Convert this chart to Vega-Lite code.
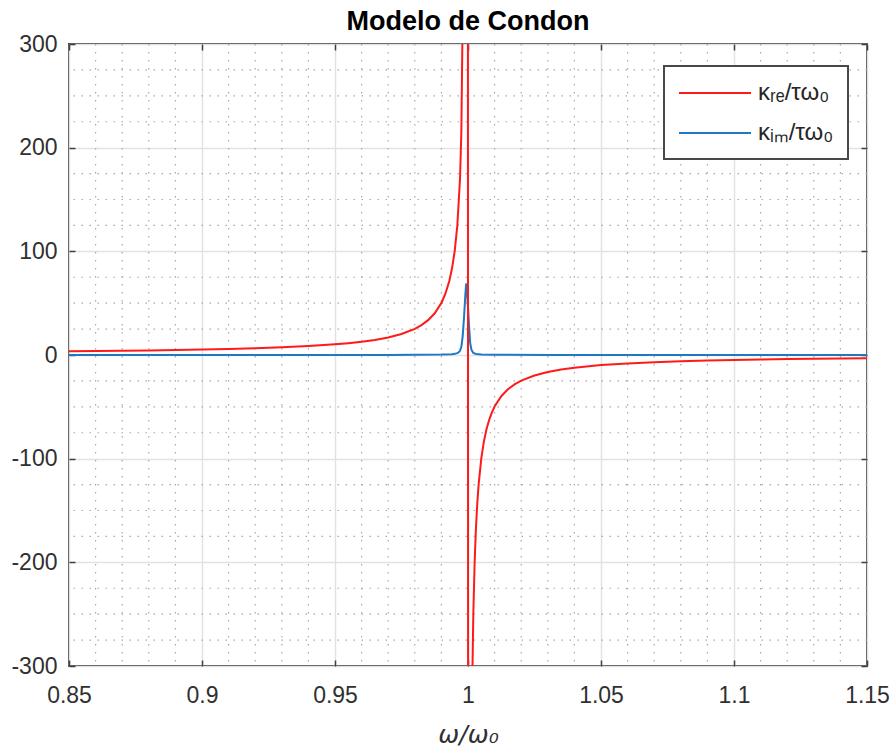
{
  "$schema": "https://vega.github.io/schema/vega-lite/v6.json",
  "width": 798,
  "height": 622,
  "autosize": {"type": "none"},
  "padding": {"left": 69, "top": 44, "right": 26, "bottom": 89},
  "background": "white",
  "title": {
    "text": "Modelo de Condon",
    "font": "Liberation Sans",
    "fontSize": 27,
    "fontWeight": "bold",
    "color": "#000000",
    "baseline": "alphabetic",
    "offset": -24,
    "anchor": "middle"
  },
  "datasets": {
    "xminor": [
      {"w": 0.86}, {"w": 0.87}, {"w": 0.88}, {"w": 0.89},
      {"w": 0.91}, {"w": 0.92}, {"w": 0.93}, {"w": 0.94},
      {"w": 0.96}, {"w": 0.97}, {"w": 0.98}, {"w": 0.99},
      {"w": 1.01}, {"w": 1.02}, {"w": 1.03}, {"w": 1.04},
      {"w": 1.06}, {"w": 1.07}, {"w": 1.08}, {"w": 1.09},
      {"w": 1.11}, {"w": 1.12}, {"w": 1.13}, {"w": 1.14}
    ],
    "yminor": [
      {"k": -275}, {"k": -250}, {"k": -225},
      {"k": -175}, {"k": -150}, {"k": -125},
      {"k": -75}, {"k": -50}, {"k": -25},
      {"k": 25}, {"k": 50}, {"k": 75},
      {"k": 125}, {"k": 150}, {"k": 175},
      {"k": 225}, {"k": 250}, {"k": 275}
    ],
    "kre": [
      {"w": 0.85, "k": 3.6, "s": "κᵣₑ/τω₀"},
      {"w": 0.86, "k": 3.84, "s": "κᵣₑ/τω₀"},
      {"w": 0.87, "k": 4.11, "s": "κᵣₑ/τω₀"},
      {"w": 0.88, "k": 4.43, "s": "κᵣₑ/τω₀"},
      {"w": 0.89, "k": 4.81, "s": "κᵣₑ/τω₀"},
      {"w": 0.9, "k": 5.26, "s": "κᵣₑ/τω₀"},
      {"w": 0.91, "k": 5.82, "s": "κᵣₑ/τω₀"},
      {"w": 0.92, "k": 6.51, "s": "κᵣₑ/τω₀"},
      {"w": 0.93, "k": 7.4, "s": "κᵣₑ/τω₀"},
      {"w": 0.94, "k": 8.59, "s": "κᵣₑ/τω₀"},
      {"w": 0.95, "k": 10.26, "s": "κᵣₑ/τω₀"},
      {"w": 0.955, "k": 11.37, "s": "κᵣₑ/τω₀"},
      {"w": 0.96, "k": 12.76, "s": "κᵣₑ/τω₀"},
      {"w": 0.965, "k": 14.54, "s": "κᵣₑ/τω₀"},
      {"w": 0.97, "k": 16.92, "s": "κᵣₑ/τω₀"},
      {"w": 0.975, "k": 20.25, "s": "κᵣₑ/τω₀"},
      {"w": 0.98, "k": 25.25, "s": "κᵣₑ/τω₀"},
      {"w": 0.9825, "k": 28.83, "s": "κᵣₑ/τω₀"},
      {"w": 0.985, "k": 33.59, "s": "κᵣₑ/τω₀"},
      {"w": 0.9875, "k": 40.25, "s": "κᵣₑ/τω₀"},
      {"w": 0.99, "k": 50.25, "s": "κᵣₑ/τω₀"},
      {"w": 0.9915, "k": 59.07, "s": "κᵣₑ/τω₀"},
      {"w": 0.993, "k": 71.68, "s": "κᵣₑ/τω₀"},
      {"w": 0.994, "k": 83.6, "s": "κᵣₑ/τω₀"},
      {"w": 0.995, "k": 100.25, "s": "κᵣₑ/τω₀"},
      {"w": 0.996, "k": 125.25, "s": "κᵣₑ/τω₀"},
      {"w": 0.997, "k": 170, "s": "κᵣₑ/τω₀"},
      {"w": 0.9975, "k": 215, "s": "κᵣₑ/τω₀"},
      {"w": 0.998, "k": 330, "s": "κᵣₑ/τω₀"},
      {"w": 0.9985, "k": 500, "s": "κᵣₑ/τω₀"},
      {"w": 0.999, "k": 800, "s": "κᵣₑ/τω₀"},
      {"w": 0.9995, "k": 5000, "s": "κᵣₑ/τω₀"},
      {"w": 1.0005, "k": -5000, "s": "κᵣₑ/τω₀"},
      {"w": 1.001, "k": -500, "s": "κᵣₑ/τω₀"},
      {"w": 1.0015, "k": -333, "s": "κᵣₑ/τω₀"},
      {"w": 1.002, "k": -250, "s": "κᵣₑ/τω₀"},
      {"w": 1.0025, "k": -199.75, "s": "κᵣₑ/τω₀"},
      {"w": 1.003, "k": -166.4, "s": "κᵣₑ/τω₀"},
      {"w": 1.0035, "k": -142.6, "s": "κᵣₑ/τω₀"},
      {"w": 1.004, "k": -124.8, "s": "κᵣₑ/τω₀"},
      {"w": 1.005, "k": -99.75, "s": "κᵣₑ/τω₀"},
      {"w": 1.006, "k": -83.1, "s": "κᵣₑ/τω₀"},
      {"w": 1.007, "k": -71.2, "s": "κᵣₑ/τω₀"},
      {"w": 1.008, "k": -62.25, "s": "κᵣₑ/τω₀"},
      {"w": 1.009, "k": -55.3, "s": "κᵣₑ/τω₀"},
      {"w": 1.01, "k": -49.75, "s": "κᵣₑ/τω₀"},
      {"w": 1.0125, "k": -39.75, "s": "κᵣₑ/τω₀"},
      {"w": 1.015, "k": -33.09, "s": "κᵣₑ/τω₀"},
      {"w": 1.0175, "k": -28.3, "s": "κᵣₑ/τω₀"},
      {"w": 1.02, "k": -24.75, "s": "κᵣₑ/τω₀"},
      {"w": 1.025, "k": -19.75, "s": "κᵣₑ/τω₀"},
      {"w": 1.03, "k": -16.42, "s": "κᵣₑ/τω₀"},
      {"w": 1.035, "k": -14.04, "s": "κᵣₑ/τω₀"},
      {"w": 1.04, "k": -12.25, "s": "κᵣₑ/τω₀"},
      {"w": 1.05, "k": -9.76, "s": "κᵣₑ/τω₀"},
      {"w": 1.06, "k": -8.09, "s": "κᵣₑ/τω₀"},
      {"w": 1.07, "k": -6.9, "s": "κᵣₑ/τω₀"},
      {"w": 1.08, "k": -6.01, "s": "κᵣₑ/τω₀"},
      {"w": 1.09, "k": -5.32, "s": "κᵣₑ/τω₀"},
      {"w": 1.1, "k": -4.76, "s": "κᵣₑ/τω₀"},
      {"w": 1.11, "k": -4.31, "s": "κᵣₑ/τω₀"},
      {"w": 1.12, "k": -3.93, "s": "κᵣₑ/τω₀"},
      {"w": 1.13, "k": -3.62, "s": "κᵣₑ/τω₀"},
      {"w": 1.14, "k": -3.34, "s": "κᵣₑ/τω₀"},
      {"w": 1.15, "k": -3.1, "s": "κᵣₑ/τω₀"}
    ],
    "kim": [
      {"w": 0.85, "k": 0.02, "s": "κᵢₘ/τω₀"},
      {"w": 0.9, "k": 0.03, "s": "κᵢₘ/τω₀"},
      {"w": 0.95, "k": 0.06, "s": "κᵢₘ/τω₀"},
      {"w": 0.97, "k": 0.12, "s": "κᵢₘ/τω₀"},
      {"w": 0.98, "k": 0.2, "s": "κᵢₘ/τω₀"},
      {"w": 0.99, "k": 0.4, "s": "κᵢₘ/τω₀"},
      {"w": 0.994, "k": 0.8, "s": "κᵢₘ/τω₀"},
      {"w": 0.995, "k": 1.1, "s": "κᵢₘ/τω₀"},
      {"w": 0.996, "k": 1.8, "s": "κᵢₘ/τω₀"},
      {"w": 0.9965, "k": 2.6, "s": "κᵢₘ/τω₀"},
      {"w": 0.997, "k": 4, "s": "κᵢₘ/τω₀"},
      {"w": 0.9975, "k": 8, "s": "κᵢₘ/τω₀"},
      {"w": 0.998, "k": 18, "s": "κᵢₘ/τω₀"},
      {"w": 0.9985, "k": 36, "s": "κᵢₘ/τω₀"},
      {"w": 0.999, "k": 58, "s": "κᵢₘ/τω₀"},
      {"w": 0.9993, "k": 69, "s": "κᵢₘ/τω₀"},
      {"w": 0.9996, "k": 62, "s": "κᵢₘ/τω₀"},
      {"w": 1.0, "k": 46, "s": "κᵢₘ/τω₀"},
      {"w": 1.0004, "k": 28, "s": "κᵢₘ/τω₀"},
      {"w": 1.0008, "k": 12, "s": "κᵢₘ/τω₀"},
      {"w": 1.0013, "k": 5, "s": "κᵢₘ/τω₀"},
      {"w": 1.002, "k": 2, "s": "κᵢₘ/τω₀"},
      {"w": 1.003, "k": 1, "s": "κᵢₘ/τω₀"},
      {"w": 1.005, "k": 0.4, "s": "κᵢₘ/τω₀"},
      {"w": 1.01, "k": 0.15, "s": "κᵢₘ/τω₀"},
      {"w": 1.03, "k": 0.05, "s": "κᵢₘ/τω₀"},
      {"w": 1.07, "k": 0.03, "s": "κᵢₘ/τω₀"},
      {"w": 1.15, "k": 0.02, "s": "κᵢₘ/τω₀"}
    ]
  },
  "layer": [
    {
      "data": {"name": "xminor"},
      "mark": {"type": "rule", "color": "#a8a8a8", "strokeWidth": 1.2, "strokeDash": [1.5, 6.5]},
      "encoding": {
        "x": {
          "field": "w", "type": "quantitative",
          "scale": {"domain": [0.85, 1.15], "nice": false, "zero": false},
          "axis": {
            "orient": "top", "values": [0.85, 0.9, 0.95, 1, 1.05, 1.1, 1.15],
            "labels": false, "grid": false, "domain": false, "ticks": true,
            "tickSize": -6, "tickColor": "#404040", "tickWidth": 1.5, "title": null,
            "minExtent": 0, "maxExtent": 0
          }
        }
      }
    },
    {
      "data": {"name": "yminor"},
      "mark": {"type": "rule", "color": "#a8a8a8", "strokeWidth": 1.2, "strokeDash": [1.5, 6.5]},
      "encoding": {
        "y": {
          "field": "k", "type": "quantitative",
          "scale": {"domain": [-300, 300], "nice": false, "zero": false},
          "axis": {
            "orient": "right", "values": [-300, -200, -100, 0, 100, 200, 300],
            "labels": false, "grid": false, "domain": false, "ticks": true,
            "tickSize": -6, "tickColor": "#404040", "tickWidth": 1.5, "title": null,
            "minExtent": 0, "maxExtent": 0
          }
        }
      }
    },
    {
      "data": {"name": "kim"},
      "mark": {"type": "line", "strokeWidth": 2, "clip": true},
      "encoding": {
        "x": {
          "field": "w", "type": "quantitative",
          "scale": {"domain": [0.85, 1.15], "nice": false, "zero": false},
          "axis": {
            "orient": "bottom", "values": [0.85, 0.9, 0.95, 1, 1.05, 1.1, 1.15],
            "format": ".2~f", "labelFlush": false, "grid": true, "gridColor": "#e2e2e2", "gridWidth": 1.5,
            "domain": false, "ticks": true, "tickSize": -6, "tickColor": "#404040", "tickWidth": 1.5,
            "labelFont": "Liberation Sans", "labelFontSize": 23, "labelColor": "#303030",
            "labelPadding": 24, "labelBaseline": "top",
            "title": "ω/ω₀", "titleFont": "DejaVu Sans", "titleFontStyle": "italic",
            "titleFontWeight": "normal", "titleFontSize": 25, "titleColor": "#303030",
            "titleBaseline": "alphabetic", "titleY": 76
          }
        },
        "y": {
          "field": "k", "type": "quantitative",
          "scale": {"domain": [-300, 300], "nice": false, "zero": false},
          "axis": {
            "orient": "left", "values": [-300, -200, -100, 0, 100, 200, 300],
            "labelExpr": "replace(datum.label, '−', '-')", "labelFlush": false,
            "grid": true, "gridColor": "#e2e2e2", "gridWidth": 1.5,
            "domain": false, "ticks": true, "tickSize": -6, "tickColor": "#404040", "tickWidth": 1.5,
            "labelFont": "Liberation Sans", "labelFontSize": 23, "labelColor": "#303030",
            "labelPadding": 18, "title": null
          }
        },
        "color": {
          "field": "s", "type": "nominal",
          "scale": {"domain": ["κᵣₑ/τω₀", "κᵢₘ/τω₀"], "range": ["#ff1a1a", "#1f78c1"]},
          "legend": {
            "title": null, "orient": "none", "legendX": 595, "legendY": 22,
            "strokeColor": "#484848", "fillColor": "white", "padding": 14,
            "rowPadding": 15, "symbolType": "M-3,0H3", "symbolSize": 576,
            "symbolOffset": 24, "symbolStrokeWidth": 2, "labelOffset": 30,
            "labelFont": "Liberation Sans", "labelFontSize": 24, "labelColor": "#262626"
          }
        }
      }
    },
    {
      "data": {"name": "kre"},
      "mark": {"type": "line", "strokeWidth": 2, "clip": true},
      "encoding": {
        "x": {"field": "w", "type": "quantitative", "scale": {"domain": [0.85, 1.15], "nice": false, "zero": false}, "axis": null},
        "y": {"field": "k", "type": "quantitative", "scale": {"domain": [-300, 300], "nice": false, "zero": false}, "axis": null},
        "color": {"field": "s", "type": "nominal"}
      }
    }
  ],
  "resolve": {"axis": {"x": "independent", "y": "independent"}},
  "config": {
    "view": {"stroke": "#444444", "strokeWidth": 2},
    "legend": {"strokeWidth": 2}
  }
}
